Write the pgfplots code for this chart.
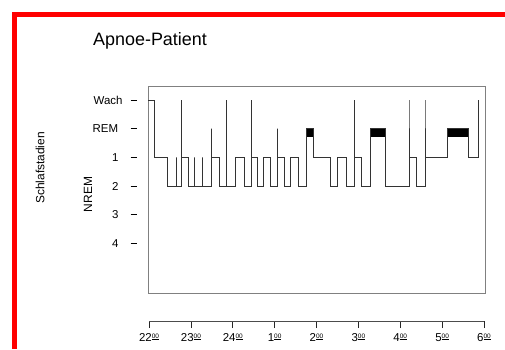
\documentclass[border=0pt]{standalone}
\usepackage{pgfplots}
\pgfplotsset{compat=1.18}
\usepackage{fontspec}
\setmainfont{Liberation Sans}
\newcommand{\yl}[2]{#1\hspace{#2}\rule[3.8bp]{6.6bp}{0.7bp}}
\newcommand{\hr}[1]{#1\raisebox{3.0bp}{\fontsize{6.5}{7}\selectfont\underline{00}}}
\begin{document}
\begin{tikzpicture}[x=1bp,y=1bp]
\useasboundingbox (0,0) rectangle (505,349);
\fill[red] (11.7,332.3) rectangle (505,337.3);
\fill[red] (11.7,0) rectangle (16.7,337.3);
\node[anchor=base west, font=\fontsize{18}{21}\selectfont, inner sep=0pt] at (93,303.3) {Apnoe-Patient};
\node[rotate=90, font=\fontsize{12}{14}\selectfont, inner sep=0pt] at (40,181) {Schlafstadien};
\node[rotate=90, font=\fontsize{12}{14}\selectfont, inner sep=0pt] at (88,154.5) {NREM};
\begin{axis}[
  at={(148bp,55.5bp)}, anchor=south west,
  scale only axis, width=337bp, height=207.5bp,
  xmin=21.976, xmax=30.024, ymin=-1.742, ymax=5.488,
  xtick=\empty,
  ytick={0,1,2,3,4,5},
  yticklabels={\yl{4}{12bp},\yl{3}{12bp},\yl{2}{12bp},\yl{1}{12bp},\yl{REM}{12.4bp},\yl{Wach}{8bp}},
  yticklabel style={anchor=east, inner sep=0pt, xshift=-10.7bp, font=\fontsize{11.5}{13}\selectfont},
  major tick length=0pt,
  axis line style={black!50, line width=0.6bp},
  clip=false,
]
\addplot[fill=black, draw=none] coordinates {(25.749,3.71) (25.924,3.71) (25.924,4) (25.749,4)};
\addplot[fill=black, draw=none] coordinates {(27.278,3.71) (27.636,3.71) (27.636,4) (27.278,4)};
\addplot[fill=black, draw=none] coordinates {(29.124,3.71) (29.625,3.71) (29.625,4) (29.124,4)};
\addplot[black!80, line width=0.8bp] coordinates {
(21.983,5)(22.119,5)(22.119,3)(22.430,3)(22.430,2)(22.645,2)(22.645,3)(22.645,2)
(22.776,2)(22.776,5)(22.776,3)(22.931,3)(22.931,2)(23.087,2)(23.087,3)(23.087,2)
(23.278,2)(23.278,3)(23.278,2)(23.497,2)(23.497,4)(23.497,3)(23.672,3)(23.672,2)
(23.851,2)(23.851,5)(23.851,2)(24.054,2)(24.054,3)(24.269,3)(24.269,2)(24.436,2)
(24.436,5)(24.436,3)(24.579,3)(24.579,2)(24.722,2)(24.722,3)(24.906,3)(24.906,2)
(25.069,2)(25.069,4)(25.069,3)(25.224,3)(25.224,2)(25.386,2)(25.386,3)(25.565,3)
(25.565,2)(25.749,2)(25.749,4)(25.924,4)(25.924,3)(26.322,3)(26.322,2)(26.497,2)
(26.497,3)(26.704,3)(26.704,2)(26.896,2)(26.896,5)(26.896,3)(27.079,3)(27.079,2)
(27.278,2)(27.278,4)(27.636,4)(27.636,2)(28.209,2)(28.209,5)(28.209,3)(28.393,3)
(28.393,2)(28.591,2)(28.591,5)(28.591,3)(29.124,3)(29.124,4)(29.625,4)(29.625,3)
(29.864,3)(29.864,5)
};
\end{axis}
\begin{axis}[
  at={(149bp,28bp)}, anchor=south west,
  scale only axis, width=335bp, height=10bp,
  xmin=22, xmax=30, ymin=0, ymax=1,
  axis x line*=bottom, axis y line=none,
  xtick={22,23,24,25,26,27,28,29,30},
  xticklabels={\hr{22},\hr{23},\hr{24},\hr{1},\hr{2},\hr{3},\hr{4},\hr{5},\hr{6}},
  xticklabel style={anchor=north, inner sep=0pt, yshift=-5bp, font=\fontsize{11.5}{13}\selectfont},
  tick align=outside, major tick length=7bp,
  tick style={black!85, line width=0.7bp},
  x axis line style={black!70, line width=0.7bp},
]
\addplot[draw=none] coordinates {(22,0)};
\end{axis}
\end{tikzpicture}
\end{document}
